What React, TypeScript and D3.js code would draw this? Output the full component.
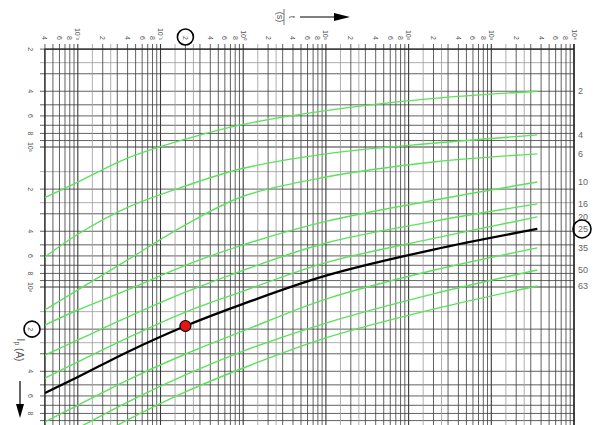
import React from 'react';
import * as d3 from 'd3';

// time points (s) where curves were read
const T_POINTS = [0.004, 0.01, 0.04, 0.2, 1, 10, 200, 3600];

// current (A) for each fuse rating at T_POINTS
const I_2 = [23, 17.8, 12, 8.8, 6.9, 5.5, 4.5, 4.0];
const I_4 = [61, 42, 27, 19, 14.2, 11.2, 9.4, 8.2];
const I_6 = [146, 105, 64, 36, 22.5, 16.4, 12.8, 11.2];
const I_10 = [187, 146, 105, 70, 50, 34, 24, 17.8];
const I_16 = [306, 239, 164, 109, 76, 48.5, 34, 25.5];
const I_20 = [447, 343, 231, 151, 107, 67, 45, 31.6];
const I_25 = [572, 440, 291, 190, 132, 83, 54, 38.5];
const I_35 = [920, 700, 462, 301, 206, 122, 76, 52.6];
const I_50 = [1345, 1017, 663, 425, 287, 181, 112, 75.6];
const I_63 = [1870, 1390, 891, 562, 379, 231, 144, 98.4];

const RATINGS = ['2', '4', '6', '10', '16', '20', '25', '35', '50', '63'];
const SERIES = [I_2, I_4, I_6, I_10, I_16, I_20, I_25, I_35, I_50, I_63];
const HIGHLIGHT = '25';

// marked operating point
const POINT_T = 0.2;
const POINT_I = 190;

const GRID_MANTISSA = [1, 1.5, 2, 2.5, 3, 4, 5, 6, 7, 8, 9];
const LABEL_MANTISSA = [2, 4, 6, 8];
const T_DECADES = [-3, -2, -1, 0, 1, 2, 3, 4];
const I_DECADES = [0, 1, 2, 3];
const SUP: Record<string, string> = { '-': '⁻', '0': '⁰', '1': '¹', '2': '²', '3': '³', '4': '⁴' };

const W = 597;
const H = 425;

export default function App() {
  const x = d3.scaleLog().domain([0.004, 10000]).range([44.9, 574]);
  const y = d3.scaleLog().domain([2, 1000]).range([49.1, 427]);

  const [x0, x1] = x.range();
  const yTop = y(2);
  const yBottom = H + 10;

  const gridVals = (decades: number[], lo: number, hi: number) => {
    const out: { v: number; m: number }[] = [];
    decades.forEach((d) =>
      GRID_MANTISSA.forEach((m) => {
        const v = m * Math.pow(10, d);
        if (v >= lo * 0.999 && v <= hi * 1.001) out.push({ v, m });
      })
    );
    return out;
  };
  const tGrid = gridVals(T_DECADES, 0.004, 10000);
  const iGrid = gridVals(I_DECADES, 2, 1200);

  const labelVals = (decades: number[], lo: number, hi: number) => {
    const out: { v: number; text: string }[] = [];
    decades.forEach((d) => {
      const dec = Math.pow(10, d);
      if (dec >= lo * 0.999 && dec <= hi * 1.001)
        out.push({ v: dec, text: '10' + String(d).split('').map((c) => SUP[c]).join('') });
      LABEL_MANTISSA.forEach((m) => {
        const v = m * dec;
        if (v >= lo * 0.999 && v <= hi * 1.001) out.push({ v, text: String(m) });
      });
    });
    return out;
  };
  const tLabels = labelVals(T_DECADES, 0.004, 10000);
  const iLabels = labelVals(I_DECADES, 2, 900);

  const line = d3
    .line<number>()
    .x((_, i) => x(T_POINTS[i]))
    .y((d) => y(d))
    .curve(d3.curveCatmullRom.alpha(0.5));

  const gridStroke = (m: number) => (m === 1.5 || m === 2.5 ? '#9a9a9a' : '#3a3a3a');
  const gridWidth = (m: number) => (m === 1 ? 1.1 : 0.8);

  return (
    <svg
      width={W}
      height={H}
      style={{ position: 'fixed', left: 0, top: 0, background: '#fff' }}
      fontFamily="Liberation Sans, Arial, sans-serif"
    >
      <defs>
        <clipPath id="plot">
          <rect x={x0} y={yTop} width={x1 - x0} height={yBottom - yTop} />
        </clipPath>
      </defs>

      {/* grid */}
      <g>
        {iGrid.map(({ v, m }) => (
          <line key={'h' + v} x1={40} x2={x1} y1={y(v)} y2={y(v)} stroke={gridStroke(m)} strokeWidth={gridWidth(m)} />
        ))}
        {tGrid.map(({ v, m }) => (
          <line key={'v' + v} x1={x(v)} x2={x(v)} y1={44} y2={yBottom} stroke={gridStroke(m)} strokeWidth={gridWidth(m)} />
        ))}
        <line x1={x0} x2={x1} y1={yTop} y2={yTop} stroke="#222" strokeWidth={1.2} />
        <line x1={x0} x2={x0} y1={yTop} y2={yBottom} stroke="#222" strokeWidth={1.2} />
        <line x1={x1} x2={x1} y1={44} y2={yBottom} stroke="#222" strokeWidth={1.4} />
      </g>

      {/* top tick labels (rotated) */}
      <g fill="#555" fontSize={7}>
        {tLabels.map(({ v, text }) => (
          <text
            key={'tl' + v}
            transform={`translate(${x(v)},40) rotate(90)`}
            textAnchor="end"
            dominantBaseline="central"
          >
            {text}
          </text>
        ))}
      </g>

      {/* left tick labels (rotated) */}
      <g fill="#555" fontSize={7}>
        {iLabels.map(({ v, text }) => (
          <text
            key={'il' + v}
            transform={`translate(30,${y(v)}) rotate(90)`}
            textAnchor="middle"
            dominantBaseline="central"
          >
            {text}
          </text>
        ))}
      </g>

      {/* curves */}
      <g clipPath="url(#plot)">
        {SERIES.map((s, i) =>
          RATINGS[i] === HIGHLIGHT ? null : (
            <path key={RATINGS[i]} d={line(s) || ''} fill="none" stroke="#5ae35a" strokeWidth={1.4} />
          )
        )}
        {SERIES.map((s, i) =>
          RATINGS[i] === HIGHLIGHT ? (
            <path key={RATINGS[i]} d={line(s) || ''} fill="none" stroke="#000" strokeWidth={2.3} />
          ) : null
        )}
        <circle cx={x(POINT_T)} cy={y(POINT_I)} r={5.5} fill="#e31414" stroke="#000" strokeWidth={1.2} />
      </g>

      {/* rating labels */}
      <g fill="#666" fontSize={9}>
        {SERIES.map((s, i) => (
          <text key={'r' + RATINGS[i]} x={578} y={y(s[s.length - 1])} dominantBaseline="central">
            {RATINGS[i]}
          </text>
        ))}
      </g>

      {/* highlight rings */}
      <g fill="none" stroke="#000" strokeWidth={1.6}>
        <circle cx={x(POINT_T)} cy={37} r={8} />
        <circle cx={32} cy={y(200)} r={8} />
        <circle cx={582} cy={y(I_25[I_25.length - 1])} r={9} />
      </g>

      {/* axis titles */}
      <g transform="translate(284,17)">
        <g transform="rotate(90)">
          <text x={0} y={-5} textAnchor="middle" fontSize={9} fill="#555">t</text>
          <line x1={-8} x2={8} y1={0} y2={0} stroke="#555" strokeWidth={0.8} />
          <text x={0} y={7} textAnchor="middle" fontSize={9} fill="#555">(s)</text>
        </g>
      </g>
      <line x1={300} x2={338} y1={17} y2={17} stroke="#000" strokeWidth={1.2} />
      <polygon points="334,13 350,17 334,21" fill="#000" />

      <text transform="translate(20,350) rotate(90)" textAnchor="middle" dominantBaseline="central" fontSize={10} fill="#555">
        I<tspan fontSize={7} dy={2}>p</tspan>
        <tspan dy={-2}> (A)</tspan>
      </text>
      <line x1={20} x2={20} y1={381} y2={406} stroke="#000" strokeWidth={1.2} />
      <polygon points="16,404 20,418 24,404" fill="#000" />
    </svg>
  );
}
